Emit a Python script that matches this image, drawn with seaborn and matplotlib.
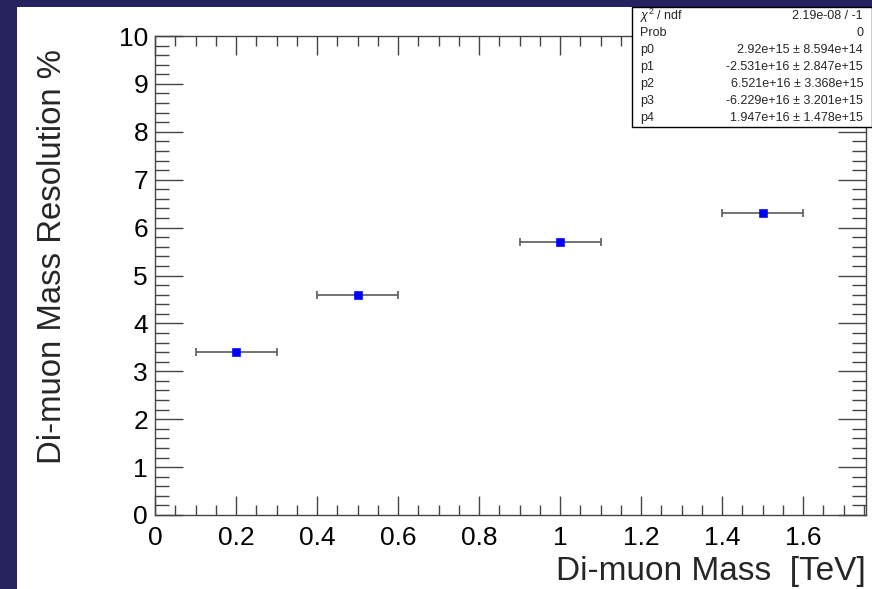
import seaborn as sns
import matplotlib.pyplot as plt
import matplotlib.patches as patches
from matplotlib.ticker import MultipleLocator
import pandas as pd

# data
mass = [0.2, 0.5, 1.0, 1.5]
mass_err = [0.1, 0.1, 0.1, 0.1]
resolution = [3.4, 4.6, 5.7, 6.3]

stat_names = ["$\\chi^2$ / ndf", "Prob", "p0", "p1", "p2", "p3", "p4"]
stat_values = ["2.19e-08 / -1", "0",
               "2.92e+15 \u00b1 8.594e+14",
               "-2.531e+16 \u00b1 2.847e+15",
               "6.521e+16 \u00b1 3.368e+15",
               "-6.229e+16 \u00b1 3.201e+15",
               "1.947e+16 \u00b1 1.478e+15"]

df = pd.DataFrame({"mass": mass, "res": resolution})

sns.set_style("ticks")
plt.rcParams['font.family'] = ['Liberation Sans', 'DejaVu Sans']
plt.rcParams['mathtext.fontset'] = 'custom'
plt.rcParams['mathtext.it'] = 'Liberation Sans:italic'
plt.rcParams['mathtext.rm'] = 'Liberation Sans'

fig = plt.figure(figsize=(8.72, 5.89), dpi=100)
fig.patch.set_facecolor('#24235f')
# white slide panel
fig.patches.append(patches.Rectangle((17 / 872, 0), 1, 1 - 7 / 589,
                                     transform=fig.transFigure,
                                     facecolor='white', edgecolor='none', zorder=0))

ax = fig.add_axes([155 / 872, 74 / 589, (866 - 155) / 872, (515 - 36) / 589])
ax.set_zorder(1)
ax.set_facecolor('white')

ax.errorbar(mass, resolution, xerr=mass_err, fmt='none', ecolor='#5a5a5a',
            elinewidth=1.2, capsize=3, capthick=1.2, zorder=2)
sns.scatterplot(data=df, x="mass", y="res", marker='s', s=32, color='blue',
                edgecolor='blue', ax=ax, zorder=3)

ax.set_xlim(0, 1.755)
ax.set_ylim(0, 10)
ax.xaxis.set_major_locator(MultipleLocator(0.2))
ax.xaxis.set_minor_locator(MultipleLocator(0.05))
ax.yaxis.set_major_locator(MultipleLocator(1))
ax.yaxis.set_minor_locator(MultipleLocator(0.2))
ax.set_xticks([0, 0.2, 0.4, 0.6, 0.8, 1.0, 1.2, 1.4, 1.6])
ax.set_xticklabels(["0", "0.2", "0.4", "0.6", "0.8", "1", "1.2", "1.4", "1.6"])
ax.tick_params(which='both', direction='in', top=True, right=True,
               colors='#444444', labelcolor='black', width=1)
ax.tick_params(axis='x', which='major', length=14, labelsize=19, pad=8)
ax.tick_params(axis='x', which='minor', length=7)
ax.tick_params(axis='y', which='major', length=20, labelsize=19, pad=5)
ax.tick_params(axis='y', which='minor', length=10)
for s in ax.spines.values():
    s.set_color('#444444')
    s.set_linewidth(1)

ax.set_xlabel("Di-muon Mass  [TeV]", fontsize=24, loc='right', labelpad=4)
ax.set_ylabel("Di-muon Mass Resolution %", fontsize=23.7, loc='top')
ax.yaxis.set_label_coords(-0.123, 0.972)

# fit statistics box
bx0, by0, bx1, by1 = 632 / 872, 1 - 127 / 589, 1.0, 1 - 7 / 589
fig.patches.append(patches.Rectangle((bx0, by0), bx1 - bx0, by1 - by0,
                                     transform=fig.transFigure, facecolor='white',
                                     edgecolor='black', linewidth=1, zorder=5))
line_h = (by1 - by0) / len(stat_names)
for i, (n, v) in enumerate(zip(stat_names, stat_values)):
    yy = by1 - (i + 0.5) * line_h
    fig.text(bx0 + 8 / 872, yy, n, fontsize=9, va='center', ha='left', zorder=6)
    fig.text(1 - 9 / 872, yy, v, fontsize=9, va='center', ha='right', zorder=6)

plt.savefig("out.png", dpi=100, facecolor=fig.get_facecolor())
